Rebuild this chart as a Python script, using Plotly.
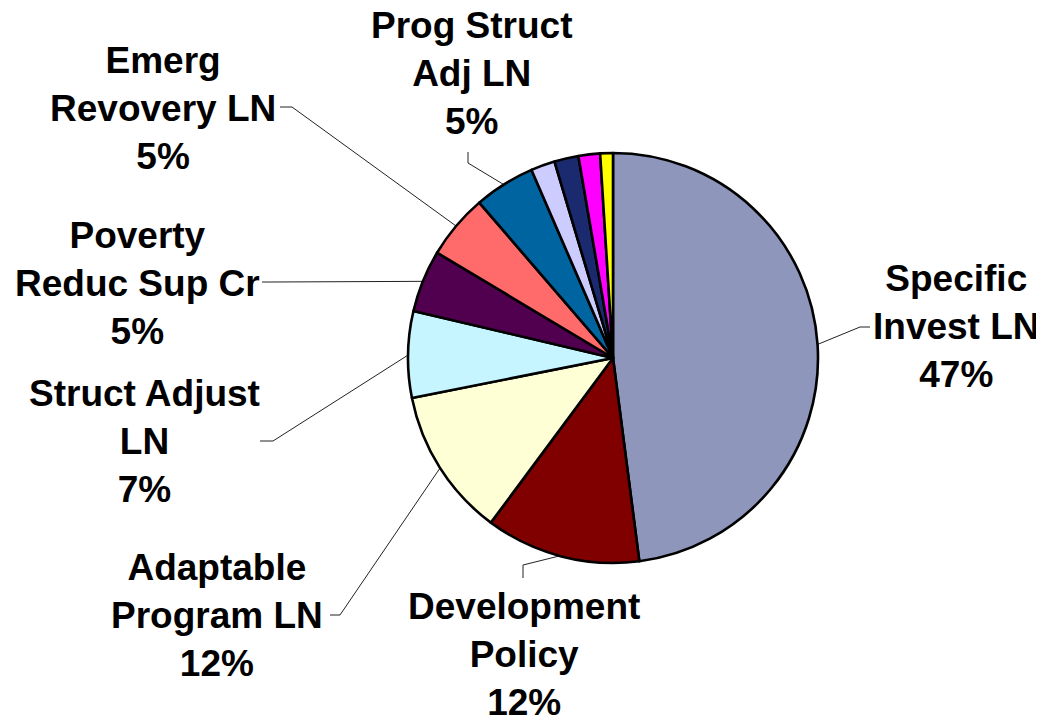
import math
import plotly.graph_objects as go

# ---- data ----
categories = ["Specific Invest LN", "Development Policy", "Adaptable Program LN",
              "Struct Adjust LN", "Poverty Reduc Sup Cr", "Emerg Revovery LN",
              "Prog Struct Adj LN", "Other A", "Other B", "Other C", "Other D"]
values = [47.9, 12.2, 11.7, 6.8, 4.9, 5.1, 4.8, 1.9, 1.9, 1.7, 1.0]
pct_text = ["47%", "12%", "12%", "7%", "5%", "5%", "5%", "", "", "", ""]
label_lines = [["Specific", "Invest LN"], ["Development", "Policy"],
               ["Adaptable", "Program LN"], ["Struct Adjust", "LN"],
               ["Poverty", "Reduc Sup Cr"], ["Emerg", "Revovery LN"],
               ["Prog Struct", "Adj LN"], None, None, None, None]
colors = ["#8F96BB", "#800000", "#FFFFD6", "#C6F5FF", "#51004F", "#FF6A6A",
          "#0064A0", "#CCCCFF", "#1B2A6E", "#FF00FF", "#FFFF00"]

# ---- layout (page pixels) ----
PAGE_W, PAGE_H = 1044, 721
OFF = 8  # default body margin of the html page
W, H = PAGE_W - OFF, PAGE_H - OFF
CX, CY, R = 613, 358, 205
# label block centre (px) and leader attach: (elbow, end) in px
label_pos = [(956, 327), (524, 654), (217, 615), (144, 441), (137, 283),
             (163, 108), (471, 73)]
leader_pts = [((860, 327), (870, 327)), ((523, 565), (523, 578)),
              ((340, 615), (330, 615)), ((273, 441), (260, 441)),
              ((272, 282), (262, 282)), ((292, 107), (280, 107)),
              ((468, 163), (468, 152))]

def px(x):
    return (x - OFF) / W

def py(y):
    return 1 - (y - OFF) / H

fig = go.Figure()
fig.add_trace(go.Pie(
    labels=categories, values=values, sort=False, direction="clockwise",
    rotation=0, textinfo="none",
    marker=dict(colors=colors, line=dict(color="black", width=2.6)),
    domain=dict(x=[px(CX - R), px(CX + R)], y=[py(CY + R), py(CY - R)]),
    showlegend=False,
))

total = sum(values)
cum = 0.0
shapes = []
annotations = []
for i, v in enumerate(values):
    mid = (cum + v / 2) / total * 2 * math.pi
    cum += v
    if label_lines[i] is None:
        continue
    ex = CX + (R - 1) * math.sin(mid)
    ey = CY - (R - 1) * math.cos(mid)
    (bx, by), (tx, ty) = leader_pts[i]
    path = f"M {px(ex)} {py(ey)} L {px(bx)} {py(by)} L {px(tx)} {py(ty)}"
    shapes.append(dict(type="path", path=path, xref="paper", yref="paper",
                       line=dict(color="#222222", width=1), layer="below"))
    lx, ly = label_pos[i]
    text = "<br>".join(label_lines[i] + [pct_text[i]])
    annotations.append(dict(text=text, x=px(lx), y=py(ly), xref="paper",
                            yref="paper", xanchor="center", yanchor="middle",
                            showarrow=False, align="center",
                            font=dict(family="Liberation Sans, Arial", size=37,
                                      color="black", weight="bold")))

fig.update_layout(width=W, height=H, margin=dict(l=0, r=0, t=0, b=0),
                  paper_bgcolor="white", plot_bgcolor="white",
                  shapes=shapes, annotations=annotations)
fig.write_html("out.html")
